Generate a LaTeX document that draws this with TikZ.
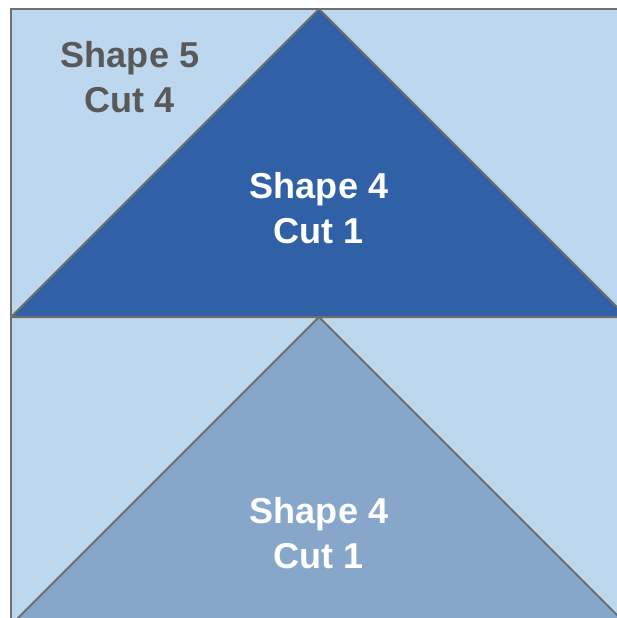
\documentclass[tikz,border=0pt]{standalone}
\usepackage{fontspec}
\setmainfont{Liberation Sans}
\usepackage{tikz}

\definecolor{paleblue}{HTML}{BDD7EE}
\definecolor{deepblue}{HTML}{3060A6}
\definecolor{midblue}{HTML}{86A6CA}
\definecolor{edgegrey}{HTML}{6E6E6E}
\definecolor{textgrey}{HTML}{595959}

\begin{document}
\begin{tikzpicture}[x=0.02cm,y=-0.02cm,
		label/.style={font=\fontsize{20.5}{25.5}\selectfont\bfseries, align=center, inner sep=0pt}]
		\useasboundingbox (0,0) rectangle (617,618);
		\clip (0,0) rectangle (617,618);

		\coordinate (nw) at (11,9);
		\coordinate (ne) at (627,9);
		\coordinate (sw) at (11,625);
		\coordinate (se) at (627,625);
		\coordinate (ml) at (11,317);
		\coordinate (mr) at (627,317);
		\coordinate (top) at (319,9);
		\coordinate (mid) at (319,317);

		\fill[paleblue] (nw) rectangle (se);
		\path[fill=deepblue, draw=edgegrey, line width=1.2pt, line join=round] (ml) -- (top) -- (mr) -- cycle;
		\path[fill=midblue, draw=edgegrey, line width=1.2pt, line join=round] (sw) -- (mid) -- (se) -- cycle;
		\draw[edgegrey, line width=1.2pt] (ml) -- (mr);
		\draw[edgegrey, line width=1.4pt] (nw) rectangle (se);

		\node[label, text=textgrey] (s5) at (130,77) {Shape 5\\Cut 4};
		\node[label, text=white] (s4a) at (319,208) {Shape 4\\Cut 1};
		\node[label, text=white] (s4b) at (319,533) {Shape 4\\Cut 1};
	\end{tikzpicture}
\end{document}
